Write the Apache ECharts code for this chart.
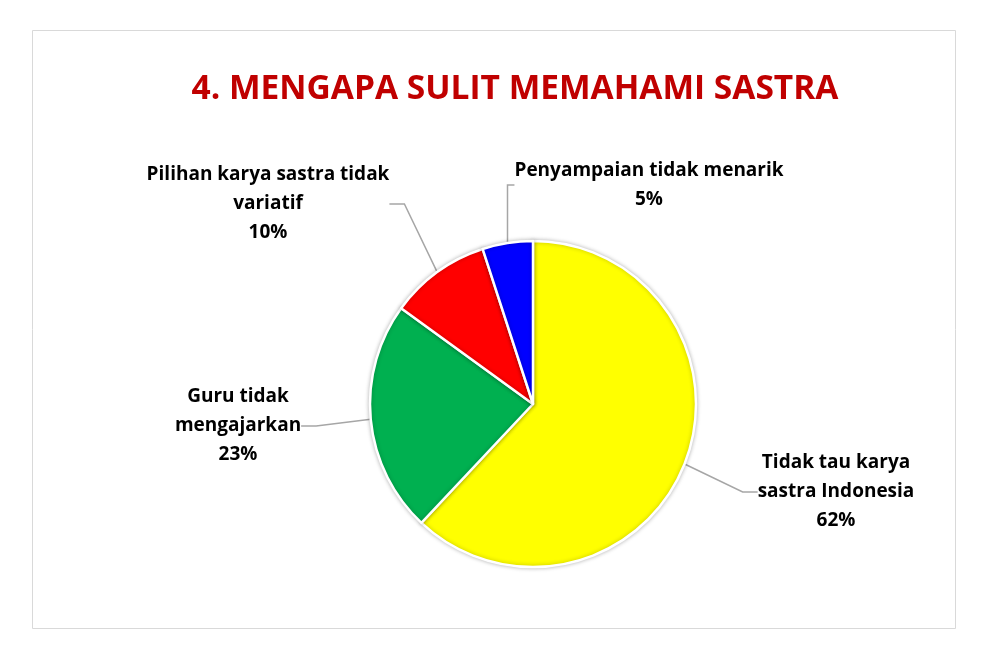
<!DOCTYPE html>
<html>
<head>
<meta charset="UTF-8">
<title>4. Mengapa sulit memahami sastra</title>
<style>
  html, body { margin: 0; padding: 0; background: #fff; }
  #chart { width: 982px; height: 661px; }
</style>
<script src="https://cdn.jsdelivr.net/npm/echarts@6/dist/echarts.min.js"></script>
</head>
<body>
<div id="chart"></div>
<script>
// data (percent of respondents)
var categories = [
  'Tidak tau karya\nsastra Indonesia',
  'Guru tidak\nmengajarkan',
  'Pilihan karya sastra tidak\nvariatif',
  'Penyampaian tidak menarik'
];
var values = [62, 23, 10, 5];
var colors = ['#ffff00', '#00b050', '#ff0000', '#0000ff'];

// where each label sits (centre of the text block)
var labelPos = [[836, 492], [238, 426], [268, 204], [649, 185]];

var chart = echarts.init(document.getElementById('chart'));

var pieData = categories.map(function (c, i) {
  return { name: c, value: values[i], itemStyle: { color: colors[i] } };
});

var option = {
  backgroundColor: '#fff',
  title: {
    text: '4. MENGAPA SULIT MEMAHAMI SASTRA',
    left: 510,
    textAlign: 'center',
    top: 67,
    textStyle: {
      color: '#c00000',
      fontFamily: 'Open Sans',
      fontWeight: 'bold',
      fontSize: 33.5
    }
  },
  graphic: [{
    type: 'rect',
    shape: { x: 32.5, y: 30.5, width: 923, height: 598 },
    style: { fill: 'none', stroke: '#d9d9d9', lineWidth: 1 },
    silent: true
  }],
  series: [{
    type: 'pie',
    center: [533, 404],
    radius: 163,
    startAngle: 90,
    clockwise: true,
    animation: false,
    data: pieData,
    itemStyle: {
      borderColor: '#fff',
      borderWidth: 2.5,
      shadowBlur: 4,
      shadowColor: 'rgba(0,0,0,0.25)'
    },
    label: {
      formatter: '{b}\n{d}%',
      color: '#000',
      fontFamily: 'Open Sans',
      fontWeight: 'bold',
      fontSize: 19,
      lineHeight: 29,
      align: 'center'
    },
    labelLine: {
      show: true,
      length: 15,
      length2: 15,
      lineStyle: { color: '#a6a6a6', width: 1.5 }
    },
    labelLayout: function (p) {
      var pos = labelPos[p.dataIndex];
      return { x: pos[0], y: pos[1], align: 'center', verticalAlign: 'middle' };
    }
  }]
};

chart.setOption(option);
</script>
</body>
</html>
